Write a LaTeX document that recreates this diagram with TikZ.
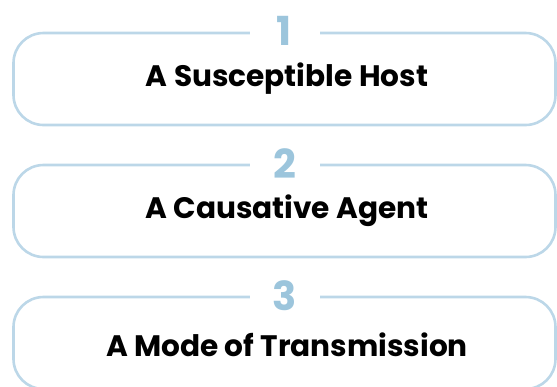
\documentclass[tikz,border=0pt]{standalone}
\usepackage{fontspec}
\setmainfont{Poppins}
\usetikzlibrary{calc}
\definecolor{frameblue}{HTML}{BCD7E8}
\definecolor{numblue}{HTML}{9CC5DC}
\tikzset{
  stepframe/.style={draw=frameblue, line width=2.6pt, rounded corners=30pt},
  stepnum/.style={fill=white, text=numblue, minimum width=70pt, inner ysep=0pt, font=\fontsize{40}{40}\selectfont\bfseries},
  steplabel/.style={text=black, font=\fontsize{29.6}{30}\selectfont\bfseries}
}
\begin{document}
\begin{tikzpicture}[x=1pt,y=-1pt]
			%%%%% START %%%%%
			\clip (0,0) rectangle (557,386);
			\useasboundingbox (0,0) rectangle (557,386);
			
			\draw[stepframe] (13.5, 33) rectangle (555.5, 125);
			\node[stepnum] (num1) at (284.5, 31) {1};
			\node[steplabel] (host) at (287, 79) {A Susceptible Host};
			
			\draw[stepframe] (13.5, 165) rectangle (555.5, 257);
			\node[stepnum] (num2) at (284.5, 164) {2};
			\node[steplabel] (agent) at (287, 211) {A Causative Agent};
			
			\draw[stepframe] (13.5, 297) rectangle (555.5, 389);
			\node[stepnum] (num3) at (284.5, 296) {3};
			\node[steplabel] (mode) at (287, 345) {A Mode of Transmission};
			
			%%%%% END %%%%%
\end{tikzpicture}
\end{document}
